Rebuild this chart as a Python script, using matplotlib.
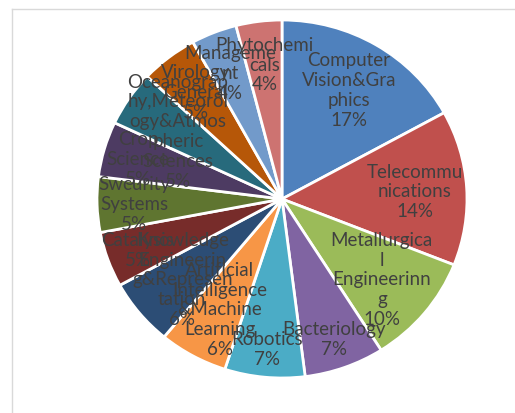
import numpy as np
import matplotlib.pyplot as plt
from matplotlib.lines import Line2D

# topics, wrapped the way the original chart wraps them
topics = ['Computer\nVision&Gra\nphics', 'Telecommu\nnications',
          'Metallurgica\nl\nEngineerinn\ng', 'Bacteriology', 'Robotics',
          'Artificial\nIntelligence\n&Machine\nLearning',
          'Knowledge\nEngineerin\ng&Represen\ntation', 'Catalysis',
          'Swcurity\nSystems', 'Crop\nScience',
          'Oceanograp\nhy,Meteorol\nogy&Atmos\npheric\nSciences',
          'Virology\nGeneral', 'Manageme\nnt', 'Phytochemi\ncals']
share = [17, 14, 10, 7, 7, 6, 6, 5, 5, 5, 5, 5, 4, 4]

colors = ['#4F81BD', '#C0504D', '#9BBB59', '#8064A2', '#4BACC6', '#F79646',
          '#2C4D75', '#772C2A', '#5F7530', '#4D3B62', '#276A7C', '#B65708',
          '#729ACA', '#CD7371']
# how far out each label sits (fraction of radius)
label_r = [0.71, 0.72, 0.70, 0.83, 0.84, 0.70, 0.70, 0.83, 0.80, 0.81,
           0.68, 0.76, 0.76, 0.76]

fig = plt.figure(figsize=(5.15, 4.14), dpi=100)
ax = fig.add_axes([97/515, 35/414, 370/515, 358/414])
wedges, _ = ax.pie(share, colors=colors, startangle=90, counterclock=False,
                   radius=1, wedgeprops=dict(edgecolor='white', linewidth=2))
ax.set_xlim(-1, 1)
ax.set_ylim(-1, 1)
ax.set_aspect('auto')

for w, name, p, r in zip(wedges, topics, share, label_r):
    ang = np.deg2rad((w.theta1 + w.theta2) / 2)
    ax.text(r * np.cos(ang), r * np.sin(ang), name + '\n' + str(p) + '%',
            ha='center', va='center', fontsize=13.5, family='Lato',
            color='#404040', linespacing=1.2)

# chart area border (partly cropped)
fig.add_artist(Line2D([12/515, 1], [1 - 10/414] * 2, color='#D9D9D9', lw=1))
fig.add_artist(Line2D([12/515] * 2, [0, 1 - 10/414], color='#D9D9D9', lw=1))

fig.savefig('out.png', dpi=100)
